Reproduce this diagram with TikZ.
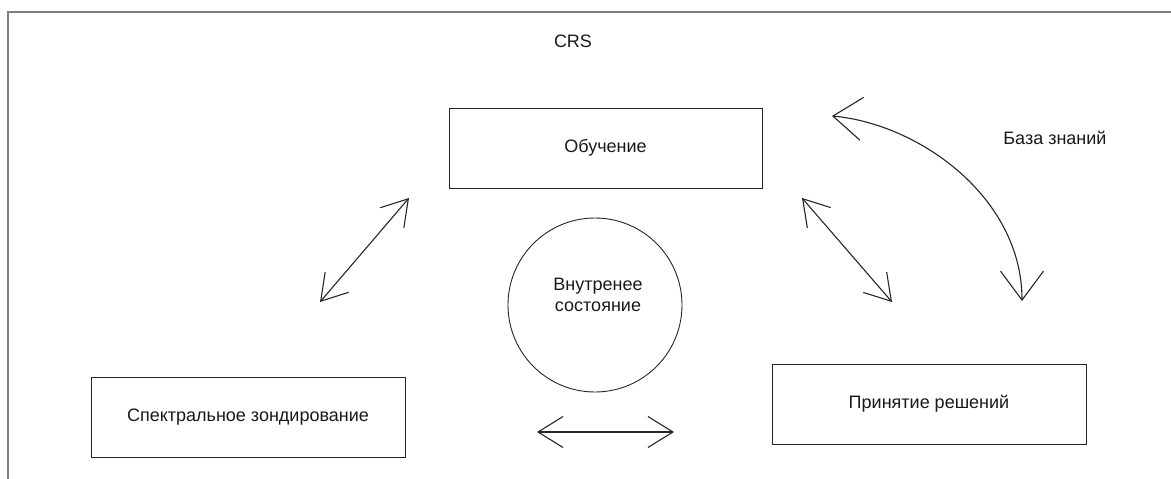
\documentclass[tikz,border=0pt]{standalone}
\usepackage{fontspec}
\setmainfont{Liberation Sans}
\usetikzlibrary{arrows.meta}
\begin{document}
\begin{tikzpicture}[x=1pt,y=-1pt,
  box/.style={draw=black!85, line width=0.9pt, rectangle, inner sep=0pt},
  lbl/.style={font=\fontsize{18}{21.5}\selectfont, text=black!90, inner sep=0pt, align=center},
  dblarrow/.style={draw=black!85, line width=1.1pt,
    {Straight Barb[length=25pt,width=31pt]}-{Straight Barb[length=25pt,width=31pt]}},
  bigarrow/.style={draw=black!85, line width=1.1pt,
    {Straight Barb[length=29pt,width=43pt]}-{Straight Barb[length=29pt,width=43pt]}}
]
\useasboundingbox (0,0) rectangle (1171,479);
% frame
\draw[draw=black!50, line width=2pt] (8,479) -- (8,11.5) -- (1171,11.5);
% title
\node[lbl] (crs) at (573,41) {CRS};
% boxes
\node[box, minimum width=313pt, minimum height=80pt] (learn) at (605.5,148) {};
\node[lbl] (learnt) at (learn.center) {Обучение};
\node[box, minimum width=314pt, minimum height=80pt] (sense) at (248,417) {};
\node[lbl] (senset) at (sense.center) {Спектральное зондирование};
\node[box, minimum width=314pt, minimum height=80pt] (decide) at (929,404) {};
\node[lbl] (decidet) at (decide.center) {Принятие решений};
% circle
\node[draw=black!85, line width=0.9pt, circle, minimum size=174pt, inner sep=0pt] (state) at (595,305) {};
\node[lbl] (statet) at (598,295) {Внутренее\\состояние};
% knowledge base label
\node[lbl] (kb) at (1055,138) {База знаний};
% arrow end points
\coordinate (a1) at (320,302);
\coordinate (a2) at (409,198);
\coordinate (b1) at (802,198);
\coordinate (b2) at (892,302);
\coordinate (c1) at (537,432);
\coordinate (c2) at (674,432);
\coordinate (d1) at (832,116);
\coordinate (d2) at (1022,301);
\draw[dblarrow] (a1) -- (a2);
\draw[dblarrow] (b1) -- (b2);
\draw[dblarrow] (c1) -- (c2);
\draw[bigarrow] (d1) .. controls (920,124) and (1022,198) .. (d2);
\end{tikzpicture}
\end{document}
